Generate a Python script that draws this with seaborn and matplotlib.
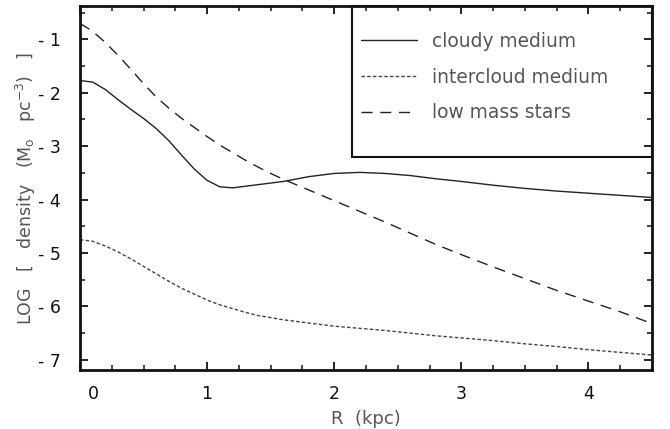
import numpy as np
import pandas as pd
import matplotlib
matplotlib.use("Agg")
import matplotlib.pyplot as plt
import matplotlib.transforms as mtransforms
from matplotlib.patches import Rectangle
import seaborn as sns

# values (R in kpc, LOG density)
r_kpc = [0.0, 0.1, 0.2, 0.3, 0.4, 0.5, 0.6, 0.7, 0.8, 0.9, 1.0, 1.1, 1.2,
         1.3, 1.4, 1.5, 1.6, 1.8, 2.0, 2.2, 2.4, 2.6, 2.8, 3.0, 3.25, 3.5,
         3.75, 4.0, 4.25, 4.5]
cloudy = [-1.77, -1.80, -1.94, -2.13, -2.31, -2.48, -2.67, -2.90, -3.17,
          -3.43, -3.64, -3.76, -3.78, -3.75, -3.72, -3.69, -3.66, -3.57,
          -3.51, -3.49, -3.51, -3.55, -3.61, -3.66, -3.73, -3.79, -3.84,
          -3.88, -3.92, -3.96]
intercloud = [-4.75, -4.78, -4.87, -4.98, -5.11, -5.25, -5.39, -5.53, -5.66,
              -5.77, -5.88, -5.97, -6.04, -6.11, -6.17, -6.21, -6.25, -6.31,
              -6.37, -6.41, -6.45, -6.50, -6.55, -6.59, -6.64, -6.70, -6.75,
              -6.81, -6.86, -6.91]
low_mass = [-0.70, -0.85, -1.06, -1.30, -1.56, -1.83, -2.08, -2.29, -2.48,
            -2.65, -2.82, -2.98, -3.12, -3.26, -3.39, -3.51, -3.62, -3.82,
            -4.02, -4.22, -4.42, -4.63, -4.84, -5.03, -5.26, -5.48, -5.70,
            -5.90, -6.10, -6.32]

series_names = ["cloudy medium", "intercloud medium", "low mass stars"]
x_ticks = [0, 1, 2, 3, 4]
y_ticks = [-7, -6, -5, -4, -3, -2, -1]


def main():
    sns.set_style("ticks")
    plt.rcParams["font.family"] = ["DejaVu Sans"]
    plt.rcParams["mathtext.default"] = "regular"

    fig = plt.figure(figsize=(6.7, 4.29), dpi=100)
    # axes box in pixels: x 80..652, y 6..370
    ax = fig.add_axes([80 / 670, 59 / 429, 572 / 670, 364 / 429])

    df = pd.DataFrame({"R": r_kpc, "cloudy": cloudy,
                       "intercloud": intercloud, "stars": low_mass})

    line_kw = dict(lw=1.0, solid_joinstyle="round", dash_joinstyle="round")
    sns.lineplot(data=df, x="R", y="cloudy", ax=ax, color="#222222",
                 label=series_names[0], **line_kw)
    sns.lineplot(data=df, x="R", y="intercloud", ax=ax, color="#444444",
                 linestyle=(0, (2.5, 1.6)), label=series_names[1], **line_kw)
    sns.lineplot(data=df, x="R", y="stars", ax=ax, color="#222222",
                 linestyle=(0, (8, 5.5)), label=series_names[2], **line_kw)

    ax.set_xlim(0, 4.5)
    ax.set_ylim(-7.19, -0.375)

    ax.set_xticks(x_ticks)
    ax.set_xticklabels([str(v) for v in x_ticks])
    ax.set_yticks(y_ticks)
    ax.set_yticklabels(["- %d" % abs(v) for v in y_ticks])
    ax.set_xticks(np.arange(0, 4.51, 0.25), minor=True)
    ax.set_yticks(np.arange(-7, -0.4, 0.5), minor=True)

    ax.tick_params(which="both", direction="in", top=True, right=True,
                   color="#111111")
    ax.tick_params(which="major", length=6, width=1.3, labelsize=12.5,
                   labelcolor="#111111")
    ax.tick_params(which="minor", length=3.5, width=1.1)
    ax.tick_params(axis="y", which="major", pad=14)
    ax.tick_params(axis="x", which="major", pad=10.5)

    for sp in ax.spines.values():
        sp.set_linewidth(2.0)
        sp.set_color("#111111")

    # "0" label sits a little right of its tick in the original
    lbl0 = ax.get_xticklabels()[0]
    lbl0.set_transform(lbl0.get_transform() +
                       mtransforms.ScaledTranslation(0.13, 0, fig.dpi_scale_trans))

    ax.set_xlabel("R  (kpc)", fontsize=13, color="#555555", labelpad=5)
    ax.set_ylabel("LOG   [   density   (M$_{o}$   pc$^{-3}$)   ]", fontsize=12.5,
                  color="#555555", labelpad=0)

    # legend box in the upper right corner (x 352..652, y 6..157 px)
    ax.add_patch(Rectangle((0.475, 0.585), 0.525, 0.415, transform=ax.transAxes,
                           fill=False, lw=1.5, ec="#111111", clip_on=False,
                           zorder=5))
    leg = ax.legend(loc="upper left", bbox_to_anchor=(0.491, 0.929),
                    frameon=False, fontsize=13.4, handlelength=3.0,
                    handletextpad=0.8, labelspacing=0.9, borderpad=0,
                    borderaxespad=0)
    for t in leg.get_texts():
        t.set_color("#555555")

    fig.savefig("out.png", dpi=100)


if __name__ == "__main__":
    main()
